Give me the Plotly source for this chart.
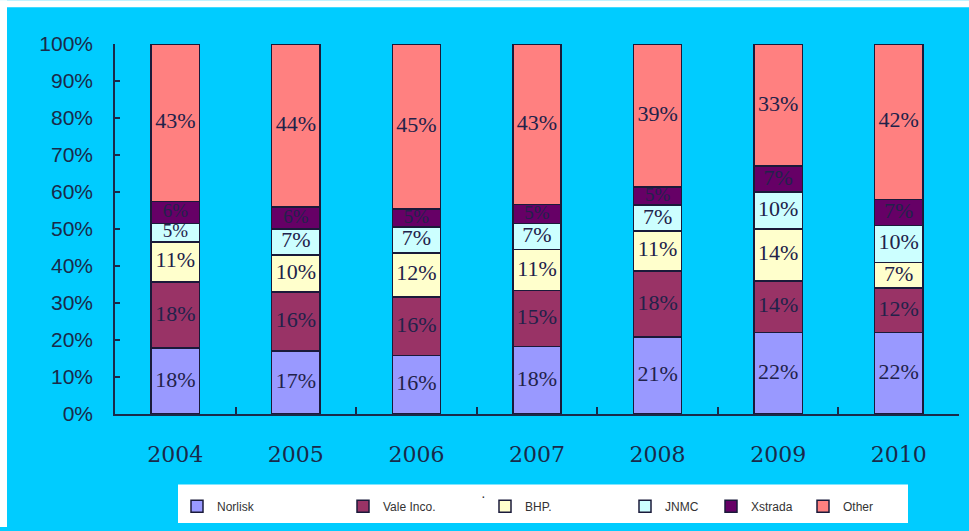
import plotly.graph_objects as go

years = ["2004", "2005", "2006", "2007", "2008", "2009", "2010"]
series_names = ["Norlisk", "Vale Inco.", "BHP.", "JNMC", "Xstrada", "Other"]
norlisk = [18, 17, 16, 18, 21, 22, 22]
vale = [18, 16, 16, 15, 18, 14, 12]
bhp = [11, 10, 12, 11, 11, 14, 7]
jnmc = [5, 7, 7, 7, 7, 10, 10]
xstrada = [6, 6, 5, 5, 5, 7, 7]
other = [43, 44, 45, 43, 39, 33, 42]
y_ticks = [0, 10, 20, 30, 40, 50, 60, 70, 80, 90, 100]
y_tick_labels = [f"{v}%" for v in y_ticks]

series_values = [norlisk, vale, bhp, jnmc, xstrada, other]
colors = ["#9999FF", "#993366", "#FFFFCC", "#CCFFFF", "#660066", "#FF8080"]
legend_names = ["legend", "legend2", "legend3", "legend4", "legend5", "legend6"]

W, H = 969, 531
ML, MR, MT, MB = 115, 10, 44, 114
PW = W - ML - MR
PH = H - MT - MB


def px_to_paper_x(px):
    return (px - ML) / PW


def px_to_paper_y(py):
    return (H - MB - py) / PH


fig = go.Figure()
for name, vals, col, lg in zip(series_names, series_values, colors, legend_names):
    fig.add_trace(go.Bar(
        x=years, y=vals, name=name,
        marker=dict(color=col, line=dict(color="#1a1a3a", width=1.5)),
        legend=lg,
    ))

# segment labels at the middle of each (normalised) segment
totals = [sum(col) for col in zip(*series_values)]
cum = [0.0] * len(years)
for vals in series_values:
    mids, texts, sizes = [], [], []
    for i, v in enumerate(vals):
        share = v / totals[i] * 100
        mids.append(cum[i] + share / 2)
        cum[i] += share
        texts.append(f"{v}%")
        sizes.append(19 if v <= 6 else 22)
    fig.add_trace(go.Scatter(
        x=years, y=mids, mode="text", text=texts,
        textfont=dict(family="Liberation Serif", size=sizes, color="#22224a"),
        showlegend=False, hoverinfo="skip",
    ))

# legend symbol centers (px) for each separate legend
legend_centers = [197, 363, 505, 645, 731, 823]
legend_layouts = {}
for lg, cx in zip(legend_names, legend_centers):
    legend_layouts[lg] = dict(
        x=px_to_paper_x(cx - 20), xanchor="left",
        y=px_to_paper_y(510), yanchor="middle",
        bgcolor="rgba(0,0,0,0)", borderwidth=0,
        font=dict(family="Liberation Sans", size=12, color="#333333"),
        itemclick=False, itemdoubleclick=False,
    )

fig.update_layout(
    width=W, height=H,
    margin=dict(l=ML, r=MR, t=MT, b=MB),
    paper_bgcolor="#00CCFF",
    plot_bgcolor="#00CCFF",
    barmode="stack",
    barnorm="percent",
    bargap=0.6,
    showlegend=True,
    **legend_layouts,
    xaxis=dict(
        showline=True, linecolor="#1a2a4a", linewidth=1.5,
        ticks="inside", tickson="boundaries", ticklen=7, tickcolor="#1a2a4a",
        tickwidth=1.5,
        tickfont=dict(family="DejaVu Serif", size=22, color="#1a2a4a"),
        ticklabelstandoff=20,
        showgrid=False,
    ),
    yaxis=dict(
        range=[0, 100], tickvals=y_ticks, ticktext=y_tick_labels,
        showline=True, linecolor="#1a2a4a", linewidth=1.5,
        ticks="inside", ticklen=5, tickcolor="#1a2a4a", tickwidth=1.5,
        tickfont=dict(family="Liberation Sans", size=21, color="#1a2a4a"),
        ticklabelstandoff=16,
        showgrid=False, zeroline=False,
    ),
    annotations=[
        dict(text="·", xref="paper", yref="paper",
             x=px_to_paper_x(483), y=px_to_paper_y(510),
             showarrow=False, font=dict(family="Liberation Sans", size=14, color="#333333")),
    ],
    shapes=[
        # white strips at top and left edge
        dict(type="rect", xref="paper", yref="paper", layer="below",
             x0=px_to_paper_x(0), x1=px_to_paper_x(W), y0=px_to_paper_y(0), y1=px_to_paper_y(7),
             fillcolor="white", line=dict(width=0)),
        dict(type="rect", xref="paper", yref="paper", layer="below",
             x0=px_to_paper_x(0), x1=px_to_paper_x(7), y0=px_to_paper_y(0), y1=px_to_paper_y(H),
             fillcolor="white", line=dict(width=0)),
        # legend white box
        dict(type="rect", xref="paper", yref="paper", layer="below",
             x0=px_to_paper_x(178), x1=px_to_paper_x(908),
             y0=px_to_paper_y(488), y1=px_to_paper_y(527),
             fillcolor="white", line=dict(width=0)),
    ],
)

fig.write_html("out.html")
